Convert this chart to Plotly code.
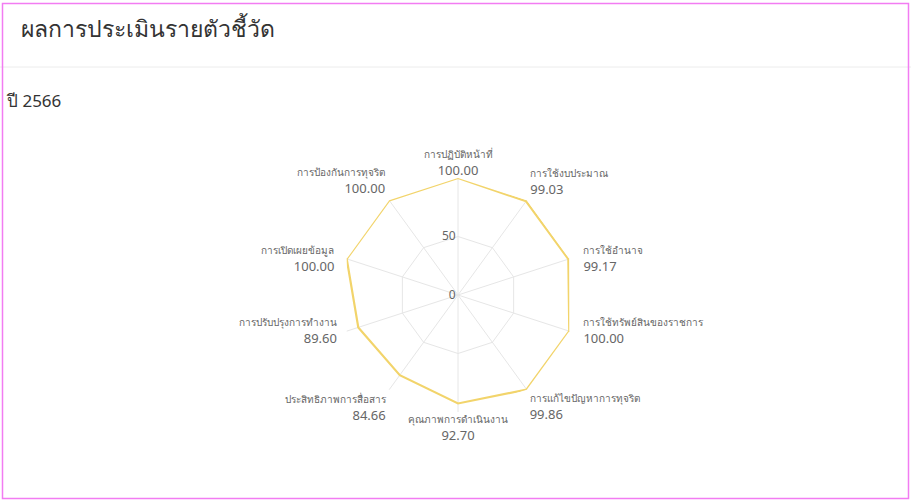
import plotly.graph_objects as go

categories = [
    "การปฏิบัติหน้าที่",
    "การใช้งบประมาณ",
    "การใช้อำนาจ",
    "การใช้ทรัพย์สินของราชการ",
    "การแก้ไขปัญหาการทุจริต",
    "คุณภาพการดำเนินงาน",
    "ประสิทธิภาพการสื่อสาร",
    "การปรับปรุงการทำงาน",
    "การเปิดเผยข้อมูล",
    "การป้องกันการทุจริต",
]
scores = [100.00, 99.03, 99.17, 100.00, 99.86, 92.70, 84.66, 89.60, 100.00, 100.00]
radial_ticks = [0, 50, 100]
radial_ticktext = ["0", "50", ""]
r_max = 100

W, H = 911, 502
cx, cy, R = 458, 295, 117

# label placement styles around the radar (per category)
label_pos = ["top center", "top right", "middle right", "middle right", "bottom right",
             "bottom center", "bottom left", "middle left", "middle left", "top left"]
label_gap = [0, 4, 21, 21, 3, 1, 4, 14, 18, 5]

label_text = [
    f"<span style='font-size:10px'>{c}</span><br>{v:.2f}"
    for c, v in zip(categories, scores)
]

fig = go.Figure()
fig.add_trace(go.Scatterpolar(
    r=scores + [scores[0]],
    theta=categories + [categories[0]],
    mode="lines",
    line=dict(color="#f2d46b", width=2.2),
    fill="none",
    hoverinfo="skip",
    showlegend=False,
))
fig.add_trace(go.Scatterpolar(
    r=[r_max] * len(categories),
    theta=categories,
    mode="markers+text",
    text=label_text,
    textposition=label_pos,
    textfont=dict(size=13, color="#666666"),
    marker=dict(size=label_gap, opacity=0, color="white"),
    cliponaxis=False,
    hoverinfo="skip",
    showlegend=False,
))

fig.update_layout(
    width=W, height=H,
    margin=dict(l=0, r=0, t=0, b=0),
    paper_bgcolor="white",
    font=dict(family="Noto Sans, sans-serif", color="#666666"),
    polar=dict(
        domain=dict(x=[(cx - R) / W, (cx + R) / W], y=[(H - cy - R) / H, (H - cy + R) / H]),
        gridshape="linear",
        bgcolor="white",
        angularaxis=dict(
            direction="clockwise",
            rotation=90,
            showline=False,
            showticklabels=False,
            gridcolor="#e6e6e6",
            gridwidth=1,
            ticks="",
        ),
        radialaxis=dict(
            range=[0, r_max],
            tickvals=radial_ticks,
            ticktext=radial_ticktext,
            angle=90,
            tickangle=90,
            showline=False,
            gridcolor="#e6e6e6",
            gridwidth=1,
            ticks="",
            tickfont=dict(size=12, color="#666666"),
            side="counterclockwise",
        ),
    ),
    annotations=[
        dict(text="ผลการประเมินรายตัวชี้วัด", x=19 / W, y=1 - 28 / H, xref="paper", yref="paper",
             xanchor="left", yanchor="middle", showarrow=False,
             font=dict(size=23, color="#333333")),
        dict(text="ปี 2566", x=4 / W, y=1 - 100 / H, xref="paper", yref="paper",
             xanchor="left", yanchor="middle", showarrow=False,
             font=dict(size=17, color="#333333")),
    ],
    shapes=[
        dict(type="line", xref="paper", yref="paper", x0=0, x1=1, y0=1 - 67 / H, y1=1 - 67 / H,
             line=dict(color="#ececec", width=1)),
        dict(type="rect", xref="paper", yref="paper", x0=2.5 / W, x1=1 - 2.5 / W, y0=3.5 / H, y1=1 - 3.5 / H,
             line=dict(color="#f27cf2", width=1.5)),
    ],
)

fig.write_html(
    "out.html",
    config={"displayModeBar": False},
    post_script="document.body.style.margin='0';document.body.style.overflow='hidden';",
)
